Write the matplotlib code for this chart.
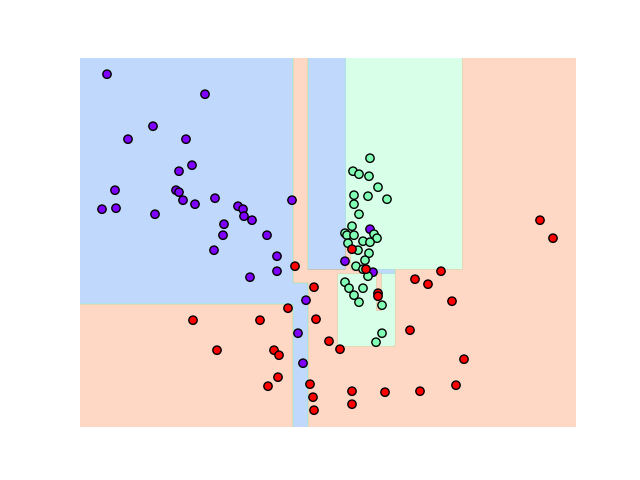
import numpy as np
import matplotlib
matplotlib.use("Agg")
import matplotlib.pyplot as plt

# Decision regions of the fitted tree:
# class label for each cell between the split edges (0 = purple, 1 = green, 2 = red)
x_edges = [0, 213, 228, 258, 265.7, 270, 292, 297, 301, 315, 382, 496]
y_edges = [0, 81, 117, 123, 144.3, 153.7, 157, 182, 369.6]
region_labels = [
    [2, 0, 2, 2, 2, 2, 2, 2, 2, 2, 2],
    [2, 0, 2, 1, 1, 1, 1, 1, 1, 2, 2],
    [2, 0, 2, 1, 1, 1, 1, 2, 1, 2, 2],
    [0, 0, 2, 1, 1, 1, 1, 2, 1, 2, 2],
    [0, 2, 2, 1, 1, 1, 1, 2, 1, 2, 2],
    [0, 2, 2, 2, 2, 2, 0, 0, 0, 2, 2],
    [0, 2, 0, 0, 2, 1, 1, 1, 1, 1, 2],
    [0, 2, 0, 0, 1, 1, 1, 1, 1, 1, 2],
]

# Samples
x_class0 = [27, 125, 73, 48, 106, 112, 99, 35, 96, 99, 103, 115, 135, 22, 36, 75, 212,
            158, 163, 164, 172, 144, 143, 187, 134, 197, 197, 170, 290, 265, 293, 226, 218, 223]
y_class0 = [353, 333, 301, 288, 288, 262, 256, 237, 237, 235, 227, 223, 229, 218, 219, 213, 227,
            221, 218, 211, 207, 203, 192, 192, 177, 171, 156, 150, 198, 166, 155, 127, 94, 64]

x_class1 = [290, 273, 279, 289, 298, 274, 288, 307, 274, 279, 272, 265, 267, 274, 294, 297, 283,
            290, 268, 278, 289, 285, 276, 283, 288, 265, 269, 283, 274, 279, 302, 302, 296]
y_class1 = [269, 256, 253, 251, 240, 232, 231, 228, 223, 213, 201, 194, 192, 192, 193, 189, 186,
            185, 184, 177, 174, 167, 161, 158, 151, 145, 139, 139, 132, 125, 122, 94, 85]

x_class2 = [215, 272, 286, 234, 208, 113, 180, 236, 137, 194, 199, 198, 188, 249, 260, 298, 298,
            330, 384, 230, 272, 305, 340, 376, 233, 272, 234, 460, 473, 361, 335, 348, 372]
y_class2 = [161, 178, 158, 140, 119, 107, 107, 108, 77, 77, 72, 50, 41, 86, 78, 134, 131,
            97, 68, 43, 36, 35, 36, 42, 30, 23, 17, 207, 189, 156, 148, 143, 126]


def main():
    X = np.array(x_class0 + x_class1 + x_class2, dtype=float)
    Y = np.array(y_class0 + y_class1 + y_class2, dtype=float)
    labels = np.array([0] * len(x_class0) + [1] * len(x_class1) + [2] * len(x_class2))
    n_classes = 3

    # evaluate the region table on a grid, like a classifier's predict
    xx, yy = np.meshgrid(np.linspace(x_edges[0], x_edges[-1], 400),
                         np.linspace(y_edges[0], y_edges[-1], 300))
    table = np.array(region_labels)
    ci = np.clip(np.searchsorted(x_edges, xx, side="right") - 1, 0, table.shape[1] - 1)
    ri = np.clip(np.searchsorted(y_edges, yy, side="right") - 1, 0, table.shape[0] - 1)
    Z = table[ri, ci]

    plt.figure(figsize=(6.4, 4.8), dpi=100)
    plt.contourf(xx, yy, Z, alpha=0.3, cmap="rainbow",
                 levels=np.arange(n_classes + 1) - 0.5)
    plt.scatter(X, Y, c=labels, cmap="rainbow", edgecolor="k")
    plt.xlim(x_edges[0], x_edges[-1])
    plt.ylim(y_edges[0], y_edges[-1])
    plt.axis("off")
    plt.savefig("out.png")


if __name__ == "__main__":
    main()
